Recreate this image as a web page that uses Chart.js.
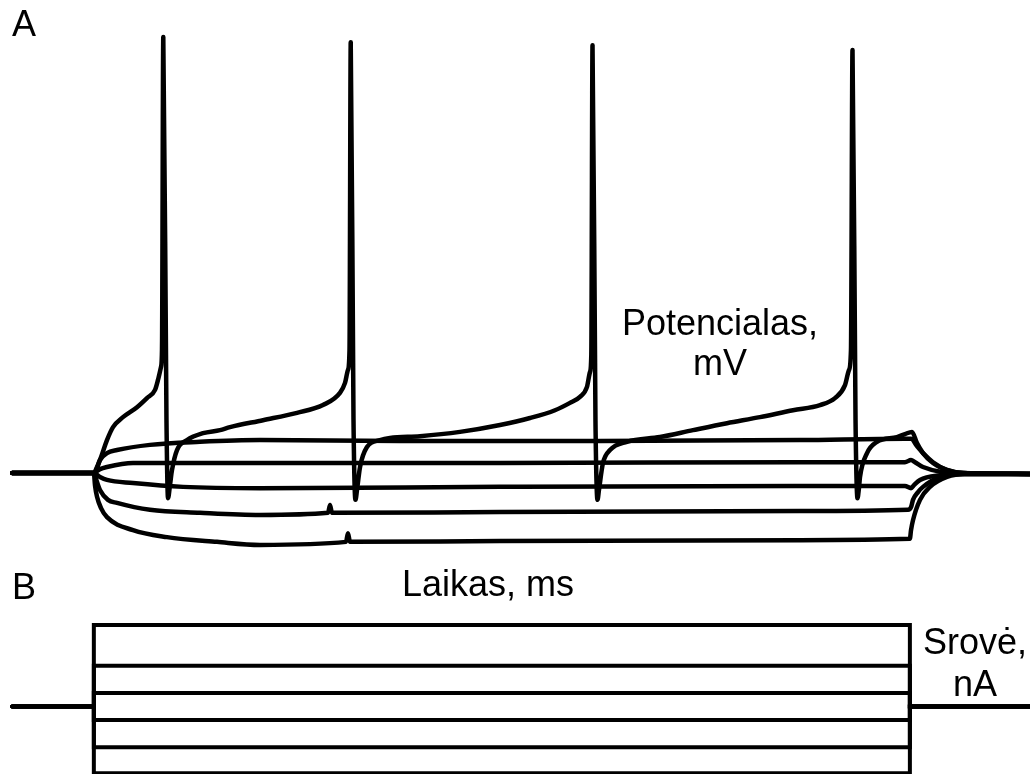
<!DOCTYPE html>
<html>
<head>
<meta charset="utf-8">
<script src="https://cdn.jsdelivr.net/npm/chart.js@4"></script>
<style>
  html, body { margin: 0; padding: 0; background: #fff; }
  #wrap { position: relative; width: 1030px; height: 774px; overflow: hidden; }
  canvas { position: absolute; left: 0; top: 0; }
  .lbl { position: absolute; font-family: "Liberation Sans", Arial, sans-serif; font-size: 36px; color: #000; white-space: nowrap; line-height: 36px; }
</style>
</head>
<body>
<div id="wrap">
  <canvas id="c" width="1030" height="774"></canvas>
  <div class="lbl" style="left:12px; top:6px;">A</div>
  <div class="lbl" style="left:12px; top:569px;">B</div>
  <div class="lbl" style="left:402px; top:566px;">Laikas, ms</div>
  <div class="lbl" style="left:620px; top:303px; width:200px; text-align:center; line-height:40px;">Potencialas,<br>mV</div>
  <div class="lbl" style="left:915px; top:621px; width:120px; text-align:center; line-height:42px;">Srovė,<br>nA</div>
</div>
<script>
// ---- Panel A: membrane potential traces (time in ms, potential in mV) ----
const tSpiking = [0, 100, 107.5, 116.1, 123.5, 135.7, 152.9, 165.1, 175.0, 178.6, 182.3, 183.5, 185.1, 189.0, 190.9,
  193.3, 195.8, 201.9, 214.2, 233.8, 254.6, 266.8, 307.3, 349.0, 380.8, 401.6, 407.8, 411.4, 413.3, 414.8, 418.2, 420.6,
  422.5, 426.2, 434.7, 450.7, 462.9, 499.7, 548.7, 597.7, 634.5, 665.1, 683.5, 695.7, 704.3, 708.0, 709.6, 711.1, 714.7, 717.2,
  719.0, 723.9, 732.5, 753.3, 793.8, 834.2, 875.9, 916.3, 956.8, 989.9, 1008.2, 1020.5, 1025.4, 1027.8, 1029.7, 1033.4, 1035.8,
  1037.6, 1038.9, 1047.5, 1059.7, 1084.2, 1094.0, 1102.6, 1108.7, 1116.1, 1128.3, 1145.5, 1165.1, 1247];
const vSpiking = [-70, -70, -67.0, -62.4, -59.4, -57.1, -54.8, -52.7, -50.8, -48.5, -45.5, -41.6, 30.7, -57.8, -75.8,
  -72.8, -69.3, -64.7, -62.4, -60.8, -60.1, -59.4, -57.8, -56.1, -54.3, -51.5, -49.2, -46.2, -41.6, 29.5, -57.8, -76.2,
  -73.9, -68.6, -64.0, -62.4, -61.9, -61.5, -60.5, -58.9, -57.3, -55.5, -53.8, -52.4, -50.1, -46.7, -42.7, 28.8, -57.8, -76.2,
  -73.9, -67.7, -64.7, -62.8, -61.7, -60.1, -58.5, -57.1, -55.5, -54.3, -52.7, -49.7, -46.2, -41.6, 27.7, -57.8, -75.8,
  -73.5, -70.9, -65.4, -62.8, -61.7, -61.0, -60.5, -63.1, -65.4, -67.7, -69.3, -70.0, -70.2];

const tTrace2 = [0, 100, 103.9, 107.5, 116.1, 128.4, 168.8, 230.1, 303.6, 475.2, 720.3, 965.3, 1094.0, 1101.4, 1108.7, 1116.1, 1128.3, 1145.5, 1165.1, 1247];
const vTrace2 = [-70, -70, -68.6, -67.0, -65.4, -64.7, -63.5, -62.8, -62.4, -62.6, -62.6, -62.4, -62.1, -62.1, -63.8, -65.4, -67.5, -69.3, -70.0, -70.2];

const tTrace3 = [0, 100, 107.5, 116.1, 148.0, 230.1, 303.6, 597.7, 965.3, 1094.0, 1101.4, 1106.3, 1116.1, 1140.6, 1165.1, 1247];
const vTrace3 = [-70, -70, -69.1, -68.6, -67.7, -67.7, -67.7, -67.7, -67.5, -67.5, -67.0, -67.5, -68.6, -69.8, -70.0, -70.2];

const tTrace4 = [0, 100, 107.5, 116.1, 148.0, 209.3, 303.6, 597.7, 965.3, 1094.0, 1101.4, 1105.0, 1112.4, 1137.0, 1165.1, 1247];
const vTrace4 = [-70, -70, -70.9, -71.6, -72.3, -73.2, -73.5, -73.2, -73.0, -73.0, -73.5, -72.8, -71.6, -70.5, -70.2, -70.2];

const tTrace5 = [0, 100, 103.9, 107.5, 117.3, 128.4, 168.8, 230.1, 303.6, 387.0, 389.4, 391.8, 597.7, 965.3, 1097.7, 1101.4, 1103.8, 1110.0, 1116.1, 1137.0, 1165.1, 1247];
const vTrace5 = [-70, -70, -72.1, -73.9, -76.2, -76.9, -78.5, -79.2, -79.7, -79.2, -77.4, -79.2, -79.0, -78.8, -78.5, -77.9, -76.2, -74.4, -73.2, -70.9, -70.2, -70.2];

const tTrace6 = [0, 100, 101.4, 103.9, 108.8, 116.1, 148.0, 189.6, 250.9, 303.6, 409.0, 411.4, 413.9, 597.7, 965.3, 1100, 1101.4, 1103.8, 1112.4, 1124.6, 1145.5, 1167.5, 1247];
const vTrace6 = [-70, -70, -72.8, -75.5, -78.1, -80.2, -83.2, -84.8, -85.9, -86.6, -85.9, -83.9, -85.9, -85.7, -85.5, -85.2, -83.2, -80.9, -76.2, -73.2, -70.9, -70.2, -70.2];

// ---- Panel B: injected current steps (nA) ----
const stepTimes = [0, 100, 100, 1100, 1100, 1247];
const stepCurrents = [0.3, 0.15, 0.05, -0.05, -0.15, -0.245];

function zip(ts, vs) { return ts.map((t, i) => ({ x: t, y: vs[i] })); }

const traceSets = [
  [tSpiking, vSpiking], [tTrace2, vTrace2], [tTrace3, vTrace3],
  [tTrace4, vTrace4], [tTrace5, vTrace5], [tTrace6, vTrace6]
];

const datasets = [];
traceSets.forEach(([ts, vs]) => {
  datasets.push({
    data: zip(ts, vs), yAxisID: 'yA', borderColor: '#000', borderWidth: 4.5,
    cubicInterpolationMode: 'monotone', pointRadius: 0,
    borderJoinStyle: 'round', borderCapStyle: 'round', fill: false
  });
});
stepCurrents.forEach(I => {
  const vals = [0, 0, I, I, 0, 0];
  datasets.push({
    data: zip(stepTimes, vals), yAxisID: 'yB', borderColor: '#000', borderWidth: 4,
    tension: 0, pointRadius: 0, borderJoinStyle: 'miter', borderCapStyle: 'round', fill: false
  });
});

new Chart(document.getElementById('c'), {
  type: 'line',
  data: { datasets },
  options: {
    responsive: false,
    animation: false,
    devicePixelRatio: 1,
    layout: { padding: 0 },
    plugins: { legend: { display: false }, tooltip: { enabled: false }, title: { display: false } },
    events: [],
    scales: {
      x: { type: 'linear', display: false, min: -15, max: 1247.2 },
      yA: { type: 'linear', display: false, min: -139.51, max: 39.24 },
      yB: { type: 'linear', display: false, min: -0.2482, max: 2.5974 }
    }
  }
});
</script>
</body>
</html>
